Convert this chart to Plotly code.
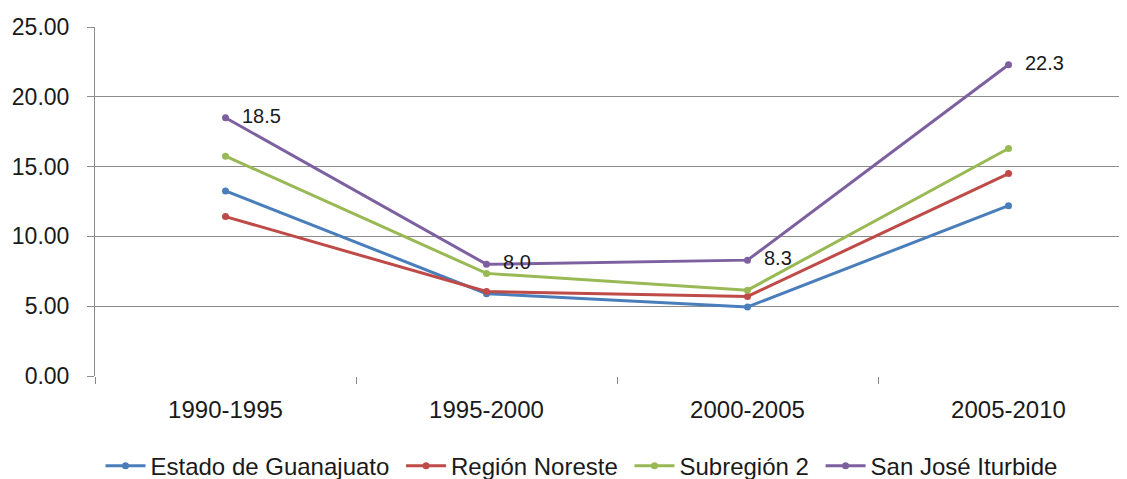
import plotly.graph_objects as go

categories = ["1990-1995", "1995-2000", "2000-2005", "2005-2010"]
estado = [13.26, 5.9, 4.95, 12.2]
region = [11.42, 6.05, 5.7, 14.5]
subregion = [15.75, 7.35, 6.15, 16.3]
sanjose = [18.5, 8.0, 8.3, 22.3]
sanjose_labels = ["18.5", "8.0", "8.3", "22.3"]
y_ticks = [0, 5, 10, 15, 20, 25]

series = [
    ("Estado de Guanajuato", estado, "#4A7EBB"),
    ("Región Noreste", region, "#BE4B48"),
    ("Subregión 2", subregion, "#98B954"),
    ("San José Iturbide", sanjose, "#7D60A0"),
]

FONT = "Liberation Sans, Arial, sans-serif"
fig = go.Figure()
for name, vals, col in series:
    if name == "San José Iturbide":
        kw = dict(mode="lines+markers+text", text=["  " + t for t in sanjose_labels],
                  textposition="middle right",
                  textfont=dict(family=FONT, size=20, color="#1a1a1a"))
    else:
        kw = dict(mode="lines+markers")
    fig.add_trace(go.Scatter(
        x=categories, y=vals, name=name + " ",
        line=dict(color=col, width=3),
        marker=dict(color=col, size=7),
        **kw))

# page body has an 8px margin, so the figure is sized/offset to compensate
fig.update_layout(
    width=1119, height=471,
    margin=dict(l=87, r=0, t=19, b=103, autoexpand=False),
    paper_bgcolor="white", plot_bgcolor="white",
    font=dict(family=FONT, size=22, color="#1a1a1a"),
    showlegend=True,
    legend=dict(orientation="h", x=(577 - 87) / 1032, xanchor="center",
                y=-0.258, yanchor="middle",
                font=dict(family=FONT, size=24, color="#1a1a1a"),
                itemwidth=40, tracegroupgap=0),
)
fig.update_xaxes(
    type="category", range=[-0.5, 3.454], automargin=False,
    showgrid=False, showline=False, zeroline=False,
    ticks="outside", tickson="boundaries", ticklen=7, tickcolor="#868686",
    ticklabelstandoff=17,
    tickfont=dict(family=FONT, size=24, color="#1a1a1a"),
)
fig.update_yaxes(
    range=[0, 25], tickvals=y_ticks, tickformat=".2f", automargin=False,
    showgrid=True, gridcolor="#8c8c8c", gridwidth=1,
    showline=True, linecolor="#8c8c8c", linewidth=1,
    zeroline=False,
    ticks="outside", ticklen=7, tickcolor="#8c8c8c",
    ticklabelstandoff=13,
    tickfont=dict(family=FONT, size=23, color="#1a1a1a"),
)

fig.write_html("out.html")
